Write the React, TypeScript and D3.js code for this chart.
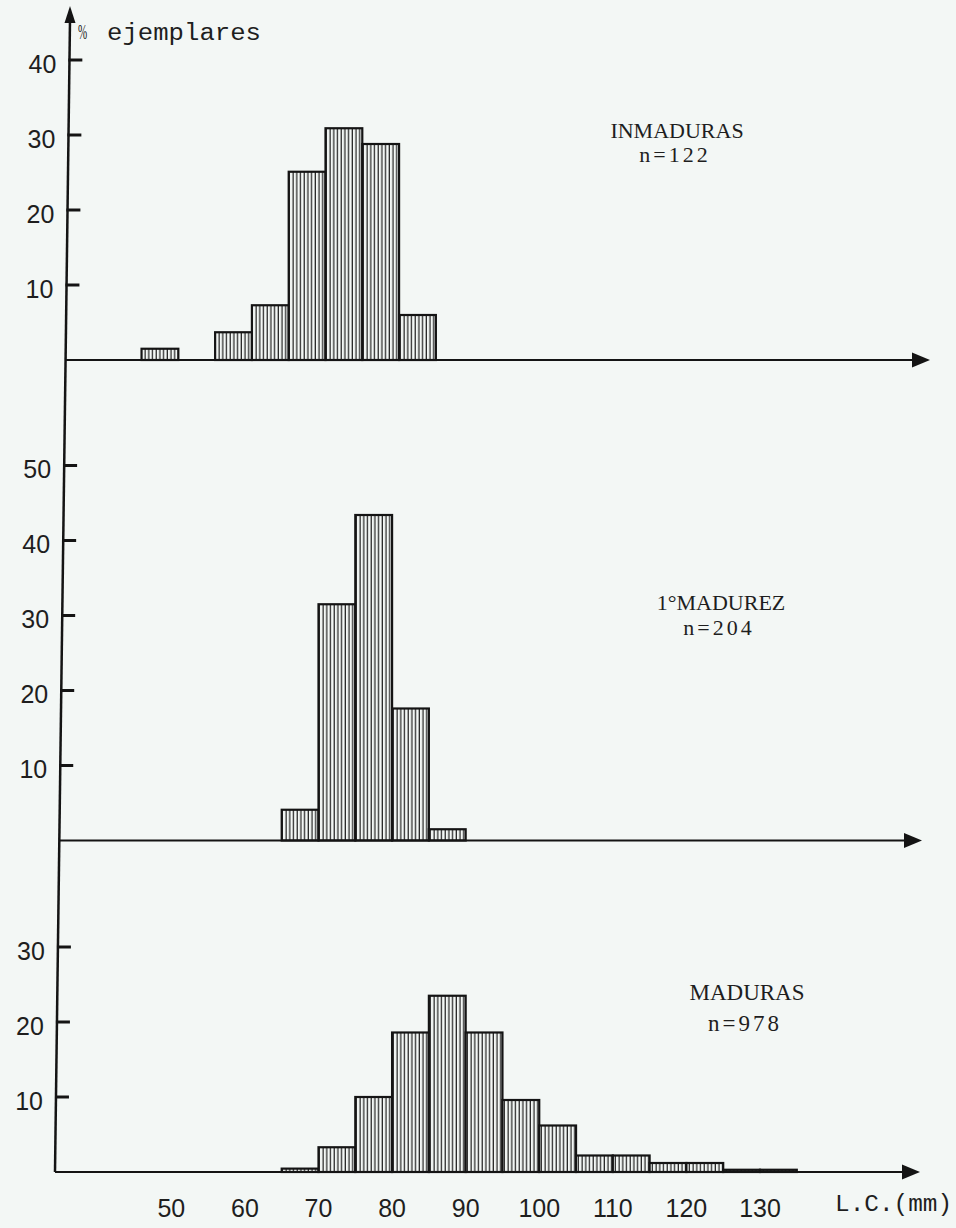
import React from "react";
import * as d3 from "d3";

// Length classes (lower edge of each 5 mm class, L.C. in mm) and % of specimens
const inmadurasBins = [45, 55, 60, 65, 70, 75, 80];
const inmadurasPct = [1.5, 3.7, 7.3, 25.1, 30.9, 28.8, 6.0];

const madurezBins = [65, 70, 75, 80, 85];
const madurezPct = [4.1, 31.5, 43.4, 17.6, 1.5];

const madurasBins = [65, 70, 75, 80, 85, 90, 95, 100, 105, 110, 115, 120, 125, 130];
const madurasPct = [0.45, 3.3, 10.0, 18.6, 23.5, 18.6, 9.6, 6.2, 2.2, 2.2, 1.2, 1.2, 0.3, 0.3];

const groupNames = ["INMADURAS", "1°MADUREZ", "MADURAS"];
const groupN = ["n=122", "n=204", "n=978"];
const yTicks = [
  [10, 20, 30, 40],
  [10, 20, 30, 40, 50],
  [10, 20, 30],
];
const xTicks = [50, 60, 70, 80, 90, 100, 110, 120, 130];

const BIN = 5;
const W = 956;
const H = 1228;
const INK = "#141414";
const TEXT = "#1e1e1e";
const PAPER = "#f3f7f5";

// Shared length axis
const x = d3.scaleLinear().domain([70, 130]).range([318.5, 760]);

// The vertical axis leans slightly from top to bottom
const axisTop = { x: 70, y: 8 };
const axisBottom = { x: 55, y: 1172 };
const axisX = (y: number) =>
  axisTop.x + ((y - axisTop.y) * (axisBottom.x - axisTop.x)) / (axisBottom.y - axisTop.y);

const panelLayout = [
  { baseline: 360, dx: 7, arrowTip: 930, labelX: 677, labelY: 138, nY: 162, size: 22 },
  { baseline: 840.5, dx: 0, arrowTip: 922, labelX: 721, labelY: 610, nY: 635, size: 22 },
  { baseline: 1172, dx: 0, arrowTip: 920, labelX: 747, labelY: 1000, nY: 1031, size: 23 },
];

const groups = [
  { bins: inmadurasBins, values: inmadurasPct },
  { bins: madurezBins, values: madurezPct },
  { bins: madurasBins, values: madurasPct },
];

const numFont = "'Liberation Sans', Arial, sans-serif";
const serifFont = "'Liberation Serif', 'Times New Roman', serif";
const monoFont = "'Liberation Mono', 'Courier New', monospace";

function Panel({ idx }: { idx: number }) {
  const lay = panelLayout[idx];
  const g = groups[idx];
  const y = d3.scaleLinear().domain([0, 10]).range([lay.baseline, lay.baseline - 75]);
  const x0 = axisX(lay.baseline);
  const ah = 7.5;
  const al = 18;
  return (
    <g>
      {/* bars */}
      <g transform={`translate(${lay.dx},0)`}>
        {g.bins.map((b, i) => {
          const left = x(b);
          const right = x(b + BIN);
          const top = y(g.values[i]);
          return (
            <rect
              key={i}
              x={left}
              y={top}
              width={right - left}
              height={y(0) - top}
              fill="url(#hatch)"
              stroke={INK}
              strokeWidth={2.2}
            />
          );
        })}
      </g>
      {/* baseline with arrow */}
      <line x1={x0} x2={lay.arrowTip - al + 2} y1={lay.baseline} y2={lay.baseline} stroke={INK} strokeWidth={2} />
      <path
        d={`M${lay.arrowTip},${lay.baseline} L${lay.arrowTip - al},${lay.baseline - ah} L${lay.arrowTip - al},${lay.baseline + ah} Z`}
        fill={INK}
      />
      {/* y ticks */}
      {yTicks[idx].map((t) => {
        const ty = y(t);
        const ax = axisX(ty);
        return (
          <g key={t}>
            <line x1={ax - 1} x2={ax + 13} y1={ty} y2={ty} stroke={INK} strokeWidth={3} />
            <text x={ax - 13} y={ty + 12.5} textAnchor="end" fontFamily={numFont} fontSize={25} fill={TEXT}>
              {t}
            </text>
          </g>
        );
      })}
      {/* group label */}
      <text x={lay.labelX} y={lay.labelY} textAnchor="middle" fontFamily={serifFont} fontSize={lay.size} fill={TEXT}>
        {groupNames[idx]}
      </text>
      <text
        x={lay.labelX - 2}
        y={lay.nY}
        textAnchor="middle"
        fontFamily={serifFont}
        fontSize={lay.size}
        letterSpacing={3}
        fill={TEXT}
      >
        {groupN[idx]}
      </text>
    </g>
  );
}

export default function App() {
  const last = panelLayout[2];
  return (
    <svg
      width={W}
      height={H}
      viewBox={`0 0 ${W} ${H}`}
      style={{ position: "absolute", left: 0, top: 0, display: "block" }}
    >
      <defs>
        <pattern id="hatch" width={3.7} height={10} patternUnits="userSpaceOnUse">
          <rect width={3.7} height={10} fill={PAPER} />
          <line x1={1.2} x2={1.2} y1={0} y2={10} stroke="#1c1c1c" strokeWidth={1.2} />
        </pattern>
      </defs>
      <rect width={W} height={H} fill={PAPER} />

      {/* vertical axis with arrow */}
      <line x1={axisTop.x} y1={axisTop.y + 12} x2={axisBottom.x} y2={axisBottom.y} stroke={INK} strokeWidth={2.5} />
      <path
        d={`M${axisTop.x},${axisTop.y - 2} L${axisTop.x - 5.5},${axisTop.y + 15} L${axisTop.x + 5.5},${axisTop.y + 15} Z`}
        fill={INK}
      />
      <text transform="translate(78,39) scale(0.5,1)" fontFamily={serifFont} fontSize={22} fill={TEXT}>
        %
      </text>
      <text x={107} y={40} fontFamily={monoFont} fontSize={23} textLength={154} lengthAdjust="spacingAndGlyphs" fill={TEXT}>
        ejemplares
      </text>

      {[0, 1, 2].map((i) => (
        <Panel key={i} idx={i} />
      ))}

      {/* length axis labels */}
      {xTicks.map((t) => (
        <text key={t} x={x(t)} y={last.baseline + 44.5} textAnchor="middle" fontFamily={numFont} fontSize={25} fill={TEXT}>
          {t}
        </text>
      ))}
      <text x={835} y={1211} fontFamily={monoFont} fontSize={24} textLength={117} lengthAdjust="spacingAndGlyphs" fill={TEXT}>
        L.C.(mm)
      </text>
    </svg>
  );
}
